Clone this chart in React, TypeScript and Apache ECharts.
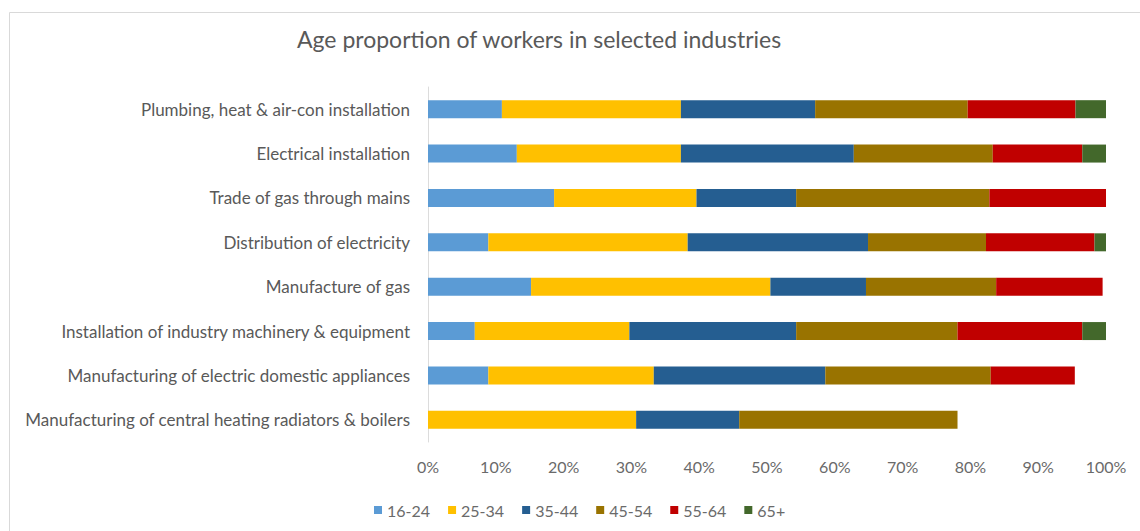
import React, { useEffect, useRef } from "react";
import * as echarts from "echarts";

const categories = [
  "Plumbing, heat & air-con installation",
  "Electrical installation",
  "Trade of gas through mains",
  "Distribution of electricity",
  "Manufacture of gas",
  "Installation of industry machinery & equipment",
  "Manufacturing of electric domestic appliances",
  "Manufacturing of central heating radiators & boilers",
];

const ageGroups = ["16-24", "25-34", "35-44", "45-54", "55-64", "65+"];

const age16_24 = [10.9, 13.1, 18.6, 8.9, 15.2, 6.9, 8.9, 0];
const age25_34 = [26.4, 24.2, 21.0, 29.4, 35.3, 22.8, 24.4, 30.7];
const age35_44 = [19.8, 25.5, 14.7, 26.6, 14.1, 24.6, 25.3, 15.2];
const age45_54 = [22.5, 20.5, 28.5, 17.4, 19.2, 23.8, 24.4, 32.2];
const age55_64 = [15.9, 13.2, 17.2, 16.0, 15.7, 18.4, 12.4, 0];
const age65plus = [4.5, 3.5, 0, 1.7, 0, 3.5, 0, 0];

const seriesValues = [age16_24, age25_34, age35_44, age45_54, age55_64, age65plus];
const colors = ["#5B9BD5", "#FFC000", "#255E91", "#997300", "#C00000", "#43682B"];

const FONT = "Lato, 'Noto Sans', sans-serif";

export default function App() {
  const ref = useRef<HTMLDivElement>(null);
  useEffect(() => {
    document.body.style.margin = "0";
    if (!ref.current) return;
    const chart = echarts.init(ref.current, null, { renderer: "svg" });
    chart.setOption({
      animation: false,
      backgroundColor: "#ffffff",
      textStyle: { fontFamily: FONT },
      title: {
        text: "Age proportion of workers in selected industries",
        left: 292,
        top: 22,
        textStyle: { fontSize: 23, fontWeight: "normal", color: "#595959", fontFamily: FONT },
      },
      graphic: [
        {
          type: "rect",
          left: 7,
          top: 10,
          shape: { width: 1150, height: 519 },
          style: { fill: "none", stroke: "#d9d9d9", lineWidth: 1 },
          silent: true,
        },
      ],
      legend: {
        data: ageGroups,
        left: 369,
        top: 497,
        icon: "rect",
        itemWidth: 8,
        itemHeight: 8,
        itemGap: 18,
        textStyle: { fontSize: 16, color: "#6a6a6a", fontFamily: FONT },
      },
      grid: { left: 428, width: 678, top: 87, height: 355, containLabel: false },
      xAxis: {
        type: "value",
        min: 0,
        max: 100,
        interval: 10,
        axisLabel: { formatter: "{value}%", fontSize: 16, color: "#6a6a6a", margin: 16, fontFamily: FONT },
        axisLine: { show: false },
        axisTick: { show: false },
        splitLine: { show: false },
      },
      yAxis: {
        type: "category",
        inverse: true,
        data: categories,
        axisLabel: { fontSize: 17, color: "#595959", margin: 18, fontFamily: FONT },
        axisTick: { show: false },
        axisLine: { show: true, lineStyle: { color: "#dcdcdc" } },
      },
      series: ageGroups.map((name, i) => ({
        name,
        type: "bar",
        stack: "total",
        barWidth: 18,
        itemStyle: { color: colors[i] },
        data: seriesValues[i],
      })),
    });
    return () => chart.dispose();
  }, []);
  return <div ref={ref} style={{ width: 1140, height: 531 }} />;
}
